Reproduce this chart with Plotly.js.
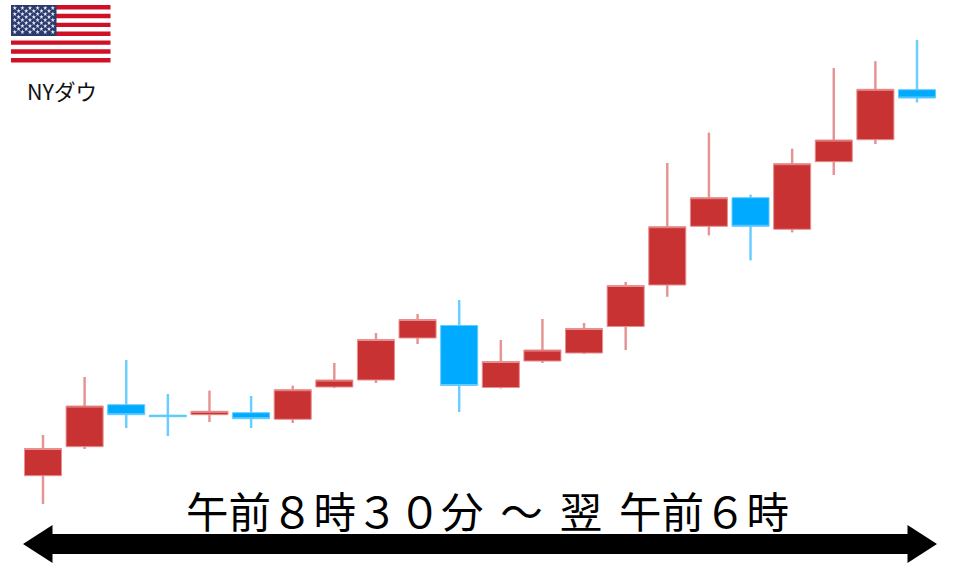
<!DOCTYPE html>
<html><head><meta charset="utf-8">
<script src="https://cdn.plot.ly/plotly-3.0.1.min.js"></script>
<style>html,body{margin:0;padding:0;background:#fff}#c{width:960px;height:567px}</style>
</head><body><div id="c"></div>
<script>
// Candle values: picture height above the bottom edge, as the source has no price scale
const sessions = ['1','2','3','4','5','6','7','8','9','10','11','12','13','14','15','16','17','18','19','20','21','22'];
const opens  = [91.3,120.3,162.3,151.8,152.3,154.3,147.7,180,187,229,241.5,179.5,206,214,240.5,282,340.7,369.3,337.7,405.3,427.3,477.3];
const closes = [118.5,161,152.3,150.3,155.7,148.3,177.3,187,227.5,247.5,181.5,205.5,217,238.5,281.5,340.3,369.3,340.7,403.3,427,477.7,469];
const highs  = [132,190,207,173,176.3,171,181.3,204,234,253,267,227,248,244,285,404,434.3,372.3,418.3,499,505.7,527];
const lows   = [63,118,139,131,145,139,144,179,184,223,155,178.5,204,213,217,270.3,331.7,306.7,334.7,392,423,464.7];
const labelText = 'NYダウ';
const spanText = '午前８時３０分\u2004\u200A～\u2004\u200A翌\u2004\u200A午前６時';

const RED='#C93232', BLUE='#00AAFF', RED_LINE='#E59A9A', BLUE_LINE='#6FD0FF', RED_EDGE='#E88F8F', BLUE_EDGE='#66CCFF';
const W=960,H=567;
const idx=sessions.map((_,i)=>i);

const shapes=[];
const fx=11,fy=5,fw=99.5,fh=57.5,st=fh/13;
for(let i=0;i<13;i+=2){
  shapes.push({type:'rect',xref:'x2',yref:'y2',x0:fx,x1:fx+fw,y0:fy+i*st,y1:fy+(i+1)*st,fillcolor:'#CE1126',line:{width:0},layer:'below'});
}
shapes.push({type:'rect',xref:'x2',yref:'y2',x0:fx,x1:fx+45.5,y0:fy,y1:fy+7*st,fillcolor:'#2B3A6E',line:{width:0},layer:'below'});
shapes.push({type:'path',xref:'x2',yref:'y2',fillcolor:'#000',line:{width:0},
  path:'M23,544 L52.5,525 L52.5,534 L907.5,534 L907.5,525 L937,544 L907.5,563 L907.5,554 L52.5,554 L52.5,563 Z'});

const sx=[],sy=[];
for(let r=0;r<9;r++){
  const n=r%2?5:6;
  for(let c=0;c<n;c++){
    sx.push(fx+ (r%2? 7.6:3.8) + c*7.6);
    sy.push(fy+3+r*3);
  }
}

const data=[
 // wide soft wicks under the candles
 {type:'bar',x:idx,base:lows,y:highs.map((h,i)=>h-lows[i]),width:0.06,hoverinfo:'skip',
  marker:{color:closes.map((c,i)=>c>=opens[i]?RED_LINE:BLUE_LINE),line:{width:0}}},
 {type:'candlestick',x:idx,open:opens,high:highs,low:lows,close:closes,whiskerwidth:0,hoverinfo:'skip',
  increasing:{line:{color:RED_EDGE,width:1},fillcolor:RED},
  decreasing:{line:{color:BLUE_EDGE,width:1},fillcolor:BLUE}},
 {type:'scatter',mode:'markers',x:sx,y:sy,xaxis:'x2',yaxis:'y2',hoverinfo:'skip',
  marker:{symbol:'star',size:3.4,color:'#E8EAF2',line:{width:0}}}
];
const hidden={visible:false,fixedrange:true,showgrid:false,zeroline:false};
const layout={
 width:W,height:H,margin:{l:0,r:0,t:0,b:0},paper_bgcolor:'#fff',plot_bgcolor:'#fff',showlegend:false,
 boxmode:'overlay',boxgap:0.11,boxgroupgap:0,barmode:'overlay',
 xaxis:Object.assign({},hidden,{range:[-1.033,22.033],rangeslider:{visible:false}}),
 yaxis:Object.assign({},hidden,{range:[0,567]}),
 xaxis2:Object.assign({},hidden,{range:[0,W],overlaying:'x'}),
 yaxis2:Object.assign({},hidden,{range:[H,0],overlaying:'y'}),
 shapes:shapes,
 annotations:[
  {xref:'x2',yref:'y2',x:62,y:90,text:labelText,showarrow:false,font:{family:'"Noto Sans CJK JP"',size:21.5,color:'#111'}},
  {xref:'x2',yref:'y2',x:487,y:509,text:spanText,showarrow:false,font:{family:'"Noto Sans CJK JP"',size:42.5,color:'#000'}}
 ]
};
Plotly.newPlot('c',data,layout,{staticPlot:true,displayModeBar:false});
</script></body></html>
